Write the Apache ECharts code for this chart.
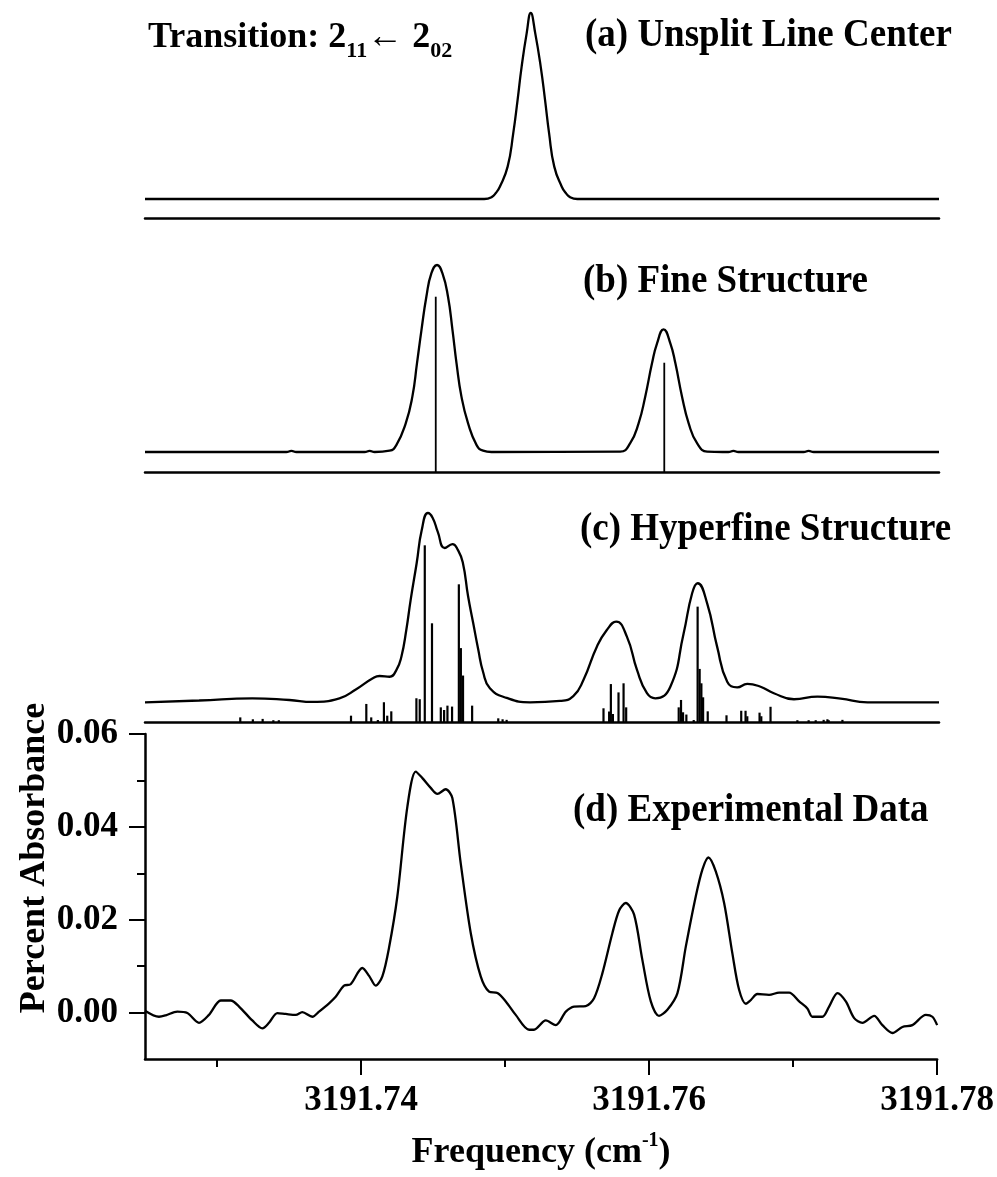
<!DOCTYPE html>
<html><head><meta charset="utf-8">
<script src="https://cdn.jsdelivr.net/npm/echarts@6/dist/echarts.min.js"></script>
<style>html,body{margin:0;padding:0;background:#fff}#c{width:997px;height:1177px}</style>
</head><body><div id="c"></div>
<script>
// ---------------- DATA ----------------
// (a) Unsplit line center: [frequency cm-1, relative intensity]
const curveA = [[3191.725,0],[3191.7485,0],[3191.74901,0.01],[3191.7493,0.032],[3191.74958,0.066],[3191.75012,0.174],[3191.75051,0.354],[3191.75081,0.533],[3191.75109,0.712],[3191.75144,0.892],[3191.75172,1],[3191.75203,0.892],[3191.75241,0.712],[3191.75271,0.533],[3191.75299,0.354],[3191.75335,0.174],[3191.75387,0.066],[3191.75415,0.032],[3191.75444,0.01],[3191.75495,0],[3191.78,0]];

// (b) Fine structure
const curveB = [[3191.725,0],[3191.73479,0],[3191.73514,0.006],[3191.73549,0],[3191.74021,0],[3191.74056,0.006],[3191.74091,0],[3191.74194,0.007],[3191.74241,0.037],[3191.74306,0.153],[3191.74352,0.296],[3191.74384,0.474],[3191.74415,0.652],[3191.74449,0.83],[3191.74484,0.956],[3191.74523,1],[3191.7456,0.956],[3191.74599,0.83],[3191.7463,0.652],[3191.74658,0.474],[3191.74692,0.296],[3191.74738,0.153],[3191.74797,0.037],[3191.74842,0.007],[3191.749,0],[3191.75792,0.002],[3191.75861,0.047],[3191.75919,0.153],[3191.75965,0.296],[3191.76012,0.474],[3191.76047,0.581],[3191.76092,0.656],[3191.76139,0.581],[3191.76174,0.474],[3191.7622,0.296],[3191.76266,0.153],[3191.76324,0.047],[3191.76394,0.002],[3191.765,0],[3191.76541,0],[3191.76576,0.006],[3191.76611,0],[3191.77062,0],[3191.77097,0.006],[3191.77132,0],[3191.78,0]];
const sticksB = [[3191.74514,0.939],[3191.76097,0.586]];

// (c) Hyperfine structure
const curveC = [[3191.725,0],[3191.72875,0.0095],[3191.73243,0.021],[3191.735,0.012],[3191.7366,0.002],[3191.73847,0.021],[3191.73963,0.069],[3191.74078,0.127],[3191.74125,0.139],[3191.74194,0.135],[3191.74241,0.17],[3191.74276,0.241],[3191.7431,0.382],[3191.7434,0.54],[3191.74382,0.736],[3191.74417,0.91],[3191.7446,1],[3191.74493,0.974],[3191.74528,0.9],[3191.74576,0.815],[3191.7463,0.836],[3191.74667,0.805],[3191.74701,0.74],[3191.74738,0.56],[3191.74773,0.42],[3191.74808,0.28],[3191.74842,0.16],[3191.74889,0.074],[3191.75005,0.023],[3191.75167,0],[3191.75375,0.007],[3191.75467,0.033],[3191.75537,0.118],[3191.7563,0.294],[3191.75699,0.382],[3191.75764,0.426],[3191.75838,0.347],[3191.75908,0.171],[3191.75977,0.048],[3191.76035,0.021],[3191.76139,0.082],[3191.76231,0.364],[3191.7629,0.576],[3191.76328,0.629],[3191.76394,0.523],[3191.76463,0.294],[3191.76533,0.109],[3191.76602,0.079],[3191.76672,0.097],[3191.76764,0.082],[3191.76856,0.048],[3191.76995,0.016],[3191.77158,0.03],[3191.77319,0.019],[3191.77505,0],[3191.78,0]];
const sticksC = [[3191.7316,0.026],[3191.73247,0.016],[3191.73315,0.018],[3191.73389,0.011],[3191.73427,0.011],
[3191.73927,0.035],[3191.74033,0.097],[3191.74067,0.026],[3191.74113,0.012],[3191.74155,0.106],[3191.74178,0.035],[3191.74206,0.058],
[3191.7438,0.127],[3191.74403,0.122],[3191.74438,0.935],[3191.74488,0.523],[3191.74549,0.079],[3191.74572,0.065],[3191.74595,0.088],[3191.74627,0.083],[3191.74674,0.729],[3191.74688,0.392],[3191.74703,0.247],[3191.74766,0.088],
[3191.74947,0.021],[3191.74977,0.016],[3191.75005,0.013],
[3191.75676,0.074],[3191.75715,0.057],[3191.75727,0.202],[3191.75741,0.044],[3191.7578,0.158],[3191.75815,0.206],[3191.75833,0.079],
[3191.76197,0.079],[3191.76213,0.118],[3191.76227,0.053],[3191.7625,0.041],[3191.76301,0.012],[3191.76328,0.611],[3191.76342,0.282],[3191.76354,0.206],[3191.76366,0.132],[3191.76398,0.058],
[3191.76528,0.037],[3191.7663,0.061],[3191.7666,0.061],[3191.76672,0.032],[3191.76757,0.051],[3191.76769,0.032],[3191.76833,0.082],
[3191.77019,0.011],[3191.77097,0.011],[3191.77146,0.011],[3191.77201,0.013],[3191.77227,0.016],[3191.77236,0.011],[3191.77331,0.013]];

// (d) Experimental data: [frequency, percent absorbance]
const dataD = [[3191.725,0.0004],[3191.72597,-0.0009],[3191.72644,-0.0006],[3191.72724,0.0002],[3191.72794,-0.0001],[3191.72875,-0.0022],[3191.72944,-0.0005],[3191.73026,0.0026],[3191.73095,0.0026],[3191.73153,0.0013],[3191.73245,-0.0017],[3191.73315,-0.0034],[3191.73361,-0.0022],[3191.73419,-0.0001],[3191.73477,-0.0003],[3191.73547,-0.0005],[3191.73592,0.0001],[3191.73662,-0.0009],[3191.73708,0.0002],[3191.73778,0.002],[3191.73824,0.0034],[3191.73882,0.0058],[3191.73928,0.0061],[3191.74009,0.0096],[3191.74056,0.0079],[3191.74102,0.0058],[3191.74148,0.0078],[3191.74194,0.0139],[3191.74252,0.025],[3191.74322,0.0444],[3191.7438,0.0519],[3191.74426,0.0505],[3191.74484,0.0484],[3191.7453,0.0471],[3191.74588,0.0481],[3191.74634,0.0462],[3191.74692,0.0322],[3191.74762,0.0171],[3191.74831,0.0078],[3191.74889,0.0045],[3191.74947,0.0042],[3191.75005,0.0024],[3191.75074,-0.0005],[3191.75167,-0.0037],[3191.75201,-0.0037],[3191.75283,-0.0017],[3191.75352,-0.0027],[3191.75422,0.0002],[3191.75479,0.0013],[3191.7556,0.0014],[3191.75618,0.0031],[3191.75676,0.0085],[3191.75745,0.0171],[3191.75792,0.022],[3191.75838,0.0236],[3191.75896,0.0211],[3191.75953,0.0114],[3191.76012,0.0024],[3191.76069,-0.0007],[3191.76127,0.0006],[3191.76197,0.0042],[3191.76255,0.0142],[3191.76324,0.025],[3191.7637,0.0308],[3191.76412,0.0334],[3191.76463,0.0304],[3191.76521,0.0236],[3191.76578,0.0128],[3191.76625,0.0049],[3191.76672,0.0019],[3191.76706,0.0027],[3191.76752,0.004],[3191.76833,0.0038],[3191.76903,0.0043],[3191.76972,0.0043],[3191.77042,0.0024],[3191.77099,0.0009],[3191.77134,-0.0009],[3191.77203,-0.0009],[3191.7725,0.0013],[3191.77308,0.0042],[3191.77366,0.0024],[3191.77424,-0.0012],[3191.77481,-0.0022],[3191.77563,-0.0007],[3191.7762,-0.0027],[3191.7769,-0.0044],[3191.77759,-0.0031],[3191.77828,-0.0027],[3191.77922,-0.0005],[3191.77967,-0.0009],[3191.78,-0.0027]];

// ticks
const xTickLabels = [3191.74, 3191.76, 3191.78];
const xMinorTicks = [3191.73, 3191.75, 3191.77];
const yTickLabels = [0, 0.02, 0.04, 0.06];
const yMinorTicks = [0.01, 0.03, 0.05];

// text
const panelTitles = ['(a) Unsplit Line Center', '(b) Fine Structure', '(c) Hyperfine Structure', '(d) Experimental Data'];

// ---------------- LAYOUT / STYLE ----------------
const FONT = '"Liberation Serif", "Times New Roman", serif';
const X_MIN = 3191.725, X_MAX = 3191.78;
const LEFT = 145, RIGHT = 58;
const simPanels = [
  {top: 13,  height: 205.7, offset: 0.106,  max: 1.106},
  {top: 265, height: 207.3, offset: 0.1086, max: 1.1086},
  {top: 513, height: 209.3, offset: 0.1057, max: 1.1057}
];
const expGrid = {top: 734, height: 325};

const black = '#000';
const LW = 2.3;
const grids = simPanels.map(p => ({left: LEFT, right: RIGHT, top: p.top, height: p.height}));
grids.push({left: LEFT, right: RIGHT, top: expGrid.top, height: expGrid.height});

const xAxes = simPanels.map((p, i) => ({
  type: 'value', gridIndex: i, min: X_MIN, max: X_MAX,
  axisLine: {show: true, onZero: false, lineStyle: {color: black, width: 2.5}},
  axisTick: {show: false}, axisLabel: {show: false}, splitLine: {show: false}
}));
xAxes.push({
  type: 'value', gridIndex: 3, min: X_MIN, max: X_MAX,
  axisLine: {show: true, onZero: false, lineStyle: {color: black, width: 2.5}},
  axisTick: {show: true, customValues: xTickLabels, length: 16, lineStyle: {color: black, width: 2}},
  axisLabel: {show: true, customValues: xTickLabels, margin: 24, color: black,
    fontFamily: FONT, fontWeight: 'bold', fontSize: 35, formatter: v => v.toFixed(2)},
  splitLine: {show: false},
  name: '{n|Frequency (cm}{s|-1}{n|)}', nameLocation: 'middle', nameGap: 74,
  nameTextStyle: {rich: {
    n: {fontFamily: FONT, fontWeight: 'bold', fontSize: 36, color: black, lineHeight: 40},
    s: {fontFamily: FONT, fontWeight: 'bold', fontSize: 20, color: black, lineHeight: 22, padding: [0, 0, 24, 0]}
  }}
});
xAxes.push({
  type: 'value', gridIndex: 3, min: X_MIN, max: X_MAX, position: 'bottom',
  axisLine: {show: false, onZero: false},
  axisTick: {show: true, customValues: xMinorTicks, length: 8, lineStyle: {color: black, width: 2}},
  axisLabel: {show: false}, splitLine: {show: false}
});

const yAxes = simPanels.map((p, i) => ({
  type: 'value', gridIndex: i, min: 0, max: p.max, show: false, splitLine: {show: false}
}));
yAxes.push({
  type: 'value', gridIndex: 3, min: -0.01, max: 0.06,
  axisLine: {show: true, onZero: false, lineStyle: {color: black, width: 2.5}},
  axisTick: {show: true, customValues: yTickLabels, length: 16, lineStyle: {color: black, width: 2}},
  axisLabel: {show: true, customValues: yTickLabels, margin: 27, color: black,
    fontFamily: FONT, fontWeight: 'bold', fontSize: 35, formatter: v => v.toFixed(2)},
  splitLine: {show: false}
});
yAxes.push({
  type: 'value', gridIndex: 3, min: -0.01, max: 0.06, position: 'left',
  axisLine: {show: false, onZero: false},
  axisTick: {show: true, customValues: yMinorTicks, length: 8, lineStyle: {color: black, width: 2}},
  axisLabel: {show: false}, splitLine: {show: false}
});

function curveSeries(data, idx, offset) {
  return {
    type: 'line', xAxisIndex: idx, yAxisIndex: idx, showSymbol: false, clip: false,
    smooth: 0.5,
    lineStyle: {color: black, width: LW},
    data: data.map(d => [d[0], d[1] + offset])
  };
}
function stickSeries(data, idx, w) {
  return {
    type: 'bar', xAxisIndex: idx, yAxisIndex: idx, barWidth: w,
    itemStyle: {color: black}, data: data
  };
}

const series = [
  curveSeries(curveA, 0, simPanels[0].offset),
  curveSeries(curveB, 1, simPanels[1].offset),
  stickSeries(sticksB, 1, 1.8),
  curveSeries(curveC, 2, simPanels[2].offset),
  stickSeries(sticksC, 2, 2.2),
  {type: 'line', xAxisIndex: 3, yAxisIndex: 3, showSymbol: false, clip: false, smooth: 0.3,
   lineStyle: {color: black, width: LW}, data: dataD}
];

const titleFont = {fontFamily: FONT, fontWeight: 'bold', fontSize: 37, fill: black};
const titlePos = [[585, 36], [583, 282], [580, 530], [573, 811]];
const graphic = panelTitles.map((t, i) => ({
  type: 'text', x: titlePos[i][0], y: titlePos[i][1], scaleY: 1.08,
  style: Object.assign({text: t, align: 'left', verticalAlign: 'middle'}, titleFont)
}));
graphic.push({
  type: 'text', x: 148, y: 18,
  style: {
    text: '{m|Transition: 2}{s|11}{m|\u2190 2}{s|02}', align: 'left', verticalAlign: 'top',
    rich: {
      m: {fontFamily: FONT, fontWeight: 'bold', fontSize: 36, fill: black, lineHeight: 40},
      s: {fontFamily: FONT, fontWeight: 'bold', fontSize: 22, fill: black, lineHeight: 24, padding: [26, 0, 0, 0]}
    }
  }
});
graphic.push({
  type: 'text', x: 35, y: 858, rotation: Math.PI / 2,
  style: Object.assign({text: 'Percent Absorbance', align: 'center', verticalAlign: 'middle'}, titleFont, {fontSize: 36})
});

const chart = echarts.init(document.getElementById('c'), null, {renderer: 'canvas'});
chart.setOption({
  animation: false, backgroundColor: '#fff',
  grid: grids, xAxis: xAxes, yAxis: yAxes, series: series, graphic: graphic
});
</script></body></html>
